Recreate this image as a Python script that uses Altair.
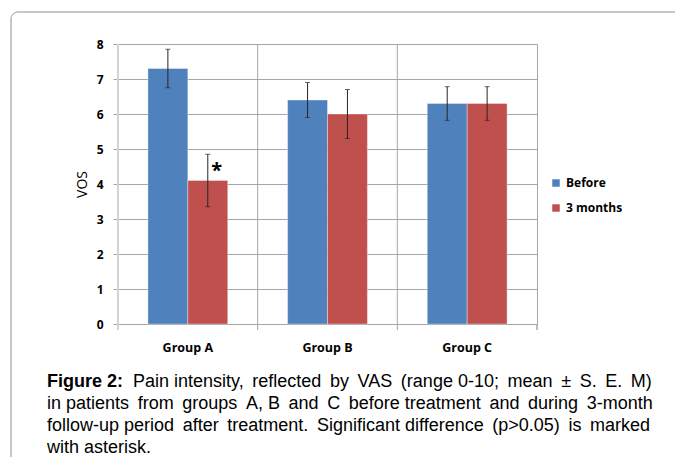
import altair as alt
import pandas as pd

groups = ["Group A", "Group B", "Group C"]
series_names = ["Before", "3 months"]
before_mean = [7.3, 6.4, 6.3]
before_sem = [0.55, 0.5, 0.48]
after_mean = [4.1, 6.0, 6.3]
after_sem = [0.75, 0.7, 0.48]
series_colors = ["#4f81bd", "#c0504d"]
y_ticks = [0, 1, 2, 3, 4, 5, 6, 7, 8]
asterisk_group = "Group A"
asterisk_series = "3 months"
asterisk_value = 4.5
caption_bold = "Figure 2:"
caption_lines = [
    "Pain intensity, reflected by VAS (range 0-10; mean \u00b1 S. E. M)",
    "in patients from groups A, B and C before treatment and during 3-month",
    "follow-up period after treatment. Significant difference (p>0.05) is marked",
    "with asterisk.",
]

rows = []
for i, g in enumerate(groups):
    rows.append({"group": g, "series": "Before", "value": before_mean[i], "err": before_sem[i]})
    rows.append({"group": g, "series": "3 months", "value": after_mean[i], "err": after_sem[i]})
df = pd.DataFrame(rows)
df["lo"] = df["value"] - df["err"]
df["hi"] = df["value"] + df["err"]

sep_df = pd.DataFrame({"group": groups[1:]})
ast_df = pd.DataFrame({"group": [asterisk_group], "series": [asterisk_series],
                       "value": [asterisk_value], "label": ["*"]})


def justify(line, extra):
    # widen some word gaps with thin spaces to mimic justified text
    parts = line.split(" ")
    gaps = len(parts) - 1
    out = parts[0]
    for j in range(1, len(parts)):
        add = (j * extra) // gaps - ((j - 1) * extra) // gaps if gaps else 0
        out += " " + "\u2009" * add + parts[j]
    return out


justify_extra = [9, 9, 6, 0]

W, H = 419, 280
GRID = "#a6a6a6"
LFONT = "Open Sans"
CFONT = "Liberation Sans"

xscale = alt.Scale(domain=groups, paddingInner=0, paddingOuter=0)
x_axis = alt.Axis(domain=False, ticks=False, grid=False, labelAngle=0,
                  labelFont=LFONT, labelFontWeight="bold", labelFontSize=12.5,
                  labelColor="black", labelPadding=17)
xoff = alt.XOffset("series:N", sort=series_names,
                   scale=alt.Scale(domain=series_names, paddingInner=0, paddingOuter=0.75))
yscale = alt.Scale(domain=[0, 8], nice=False)
y_axis = alt.Axis(values=y_ticks, grid=True, gridColor=GRID, domain=False,
                  tickColor=GRID, tickSize=5, labelFont=LFONT, labelFontWeight="bold",
                  labelFontSize=12, labelColor="black", labelPadding=10,
                  titleFont=LFONT, titleFontSize=14, titleFontWeight="normal",
                  titleColor="black", titlePadding=7)


def xn(axis=None):
    return alt.X("group:N", scale=xscale, title=None, axis=axis)


def yq(field, axis=None):
    return alt.Y(field, scale=yscale, axis=axis, title="VOS")


base = alt.Chart(df)

frame = alt.Chart(sep_df).mark_rect(fill=None, stroke="#b5b5b5", strokeWidth=1,
                                     cornerRadius=7).encode(
    x=alt.value(-107), x2=alt.value(W + 200), y=alt.value(-32), y2=alt.value(H + 200))

seps = alt.Chart(sep_df).mark_rule(color=GRID, strokeWidth=1).encode(
    x=alt.X("group:N", scale=xscale, bandPosition=0, title=None, axis=None),
    y=alt.value(0), y2=alt.value(H + 6))

left_line = alt.Chart(sep_df).mark_rule(color="#d4d4d4", strokeWidth=2).encode(
    x=alt.value(0), y=alt.value(0), y2=alt.value(H + 6))

right_tick = alt.Chart(sep_df).mark_rule(color=GRID, strokeWidth=1).encode(
    x=alt.value(W), y=alt.value(H), y2=alt.value(H + 6))

bars = base.mark_bar(stroke="#ffffff", strokeOpacity=0.35, strokeWidth=1).encode(
    x=xn(x_axis), xOffset=xoff,
    y=yq("value:Q", y_axis),
    color=alt.Color("series:N", sort=series_names,
                    scale=alt.Scale(domain=series_names, range=series_colors),
                    legend=alt.Legend(title=None, orient="none", legendX=432, legendY=133,
                                      symbolType="square", symbolSize=56,
                                      symbolStrokeWidth=0, labelFont=LFONT,
                                      labelFontWeight="bold", labelFontSize=12,
                                      labelColor="black", rowPadding=13, labelOffset=4)))

err = base.mark_rule(color="#262626", strokeWidth=1).encode(
    x=xn(), xOffset=xoff, y=yq("lo:Q"), y2="hi:Q")

cap_lo = base.mark_tick(color="#262626", thickness=1, size=5).encode(
    x=xn(), xOffset=xoff, y=yq("lo:Q"))
cap_hi = base.mark_tick(color="#262626", thickness=1, size=5).encode(
    x=xn(), xOffset=xoff, y=yq("hi:Q"))

star = alt.Chart(ast_df).mark_text(font=LFONT, fontSize=20, fontWeight="bold",
                                   color="black", dx=9, dy=4, baseline="middle").encode(
    x=xn(), xOffset=xoff, y=yq("value:Q"), text="label:N")

FS = 18
Y0 = 343
LH = 22
cap_layers = []
cap_layers.append(alt.Chart(sep_df.head(1)).mark_text(
    font=CFONT, fontSize=FS, fontWeight="bold", color="black", align="left",
    baseline="alphabetic", text=caption_bold).encode(x=alt.value(-71), y=alt.value(Y0)))
cap_layers.append(alt.Chart(sep_df.head(1)).mark_text(
    font=CFONT, fontSize=FS, color="black", align="left",
    baseline="alphabetic", text=justify(caption_lines[0], justify_extra[0])).encode(
    x=alt.value(15), y=alt.value(Y0)))
for k, line in enumerate(caption_lines[1:]):
    cap_layers.append(alt.Chart(sep_df.head(1)).mark_text(
        font=CFONT, fontSize=FS, color="black", align="left",
        baseline="alphabetic", text=justify(line, justify_extra[k + 1])).encode(
        x=alt.value(-71), y=alt.value(Y0 + LH * (k + 1))))

chart = alt.layer(frame, seps, left_line, right_tick, bars, err, cap_lo, cap_hi, star,
                  *cap_layers).properties(
    width=W, height=H,
    autosize=alt.AutoSizeParams(type="none"),
    padding={"left": 110, "top": 36, "right": 138, "bottom": 133},
    background="white",
).resolve_axis(x="independent", y="independent").configure_view(stroke=GRID, strokeWidth=1)

chart.save("out.html", embed_options={"renderer": "svg", "actions": False})
